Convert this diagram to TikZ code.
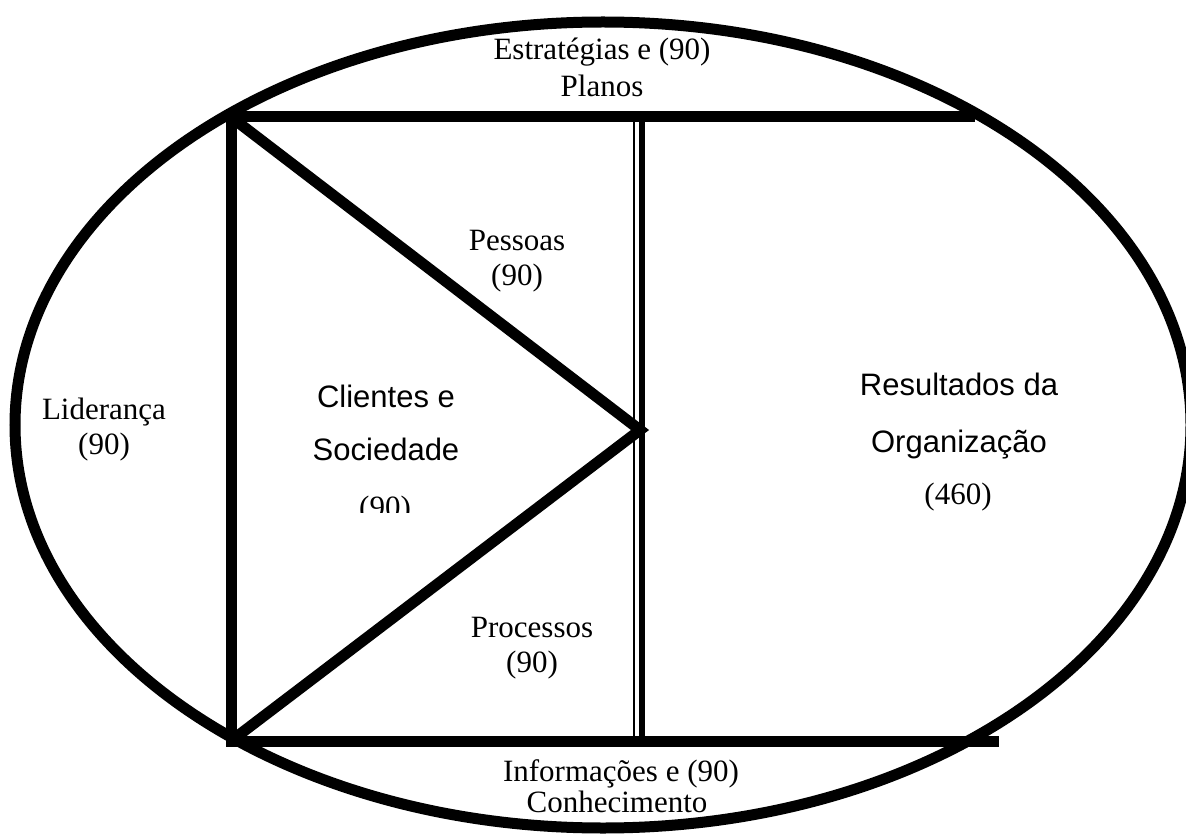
\documentclass[tikz,border=0pt]{standalone}
\usepackage{fontspec}
\setmainfont{Liberation Serif}
\newfontfamily\arialfont{Liberation Sans}
\begin{document}
\begin{tikzpicture}[x=1pt,y=-1pt,
  thickline/.style={line width=11pt,line cap=butt},
  seriflabel/.style={font=\fontsize{31}{35}\selectfont,align=center,inner sep=0pt},
  serifline/.style={font=\fontsize{31}{35}\selectfont,inner sep=0pt,anchor=base},
  sanslabel/.style={font=\arialfont\fontsize{31}{35}\selectfont,align=center,inner sep=0pt}]
\useasboundingbox (0,0) rectangle (1186,834);
\clip (0,0) rectangle (1186,834);

% outer ellipse
\draw[thickline] (603,425) ellipse [x radius=588, y radius=403];

% frame corners
\coordinate (tl) at (231,117);
\coordinate (tr) at (975,117);
\coordinate (bl) at (231,741);
\coordinate (br) at (999,741);
\coordinate (apex) at (640,430);

% horizontal bars
\draw[thickline] (225.5,117) -- (tr);
\draw[thickline] (225.5,741) -- (br);
% left vertical bar
\draw[thickline] (231,111.5) -- (231,746.5);
% triangle
\draw[thickline,line join=miter] (tl) -- (apex) -- (bl);
% double divider
\draw[line width=2pt] (634,117) -- (634,741);
\draw[line width=6pt] (642,117) -- (642,741);

% labels outside the frame
\node[serifline] (estr) at (602,60) {Estratégias e (90)};
\node[serifline] (plan) at (602,97) {Planos};
\node[serifline] (info) at (621,781) {Informações e (90)};
\node[serifline] (conh) at (617,812) {Conhecimento};

\node[seriflabel] (pess) at (517,261) {Pessoas\\(90)};
\node[seriflabel] (lider) at (104,430) {Liderança\\(90)};
\node[seriflabel] (proc) at (532,648) {Processos\\(90)};

\node[sanslabel] (cli1) at (386,396) {Clientes e};
\node[sanslabel] (cli2) at (386,449) {Sociedade};
\begin{scope}
  \clip (300,480) rectangle (470,512);
  \node[serifline] (cli3) at (385,517) {(90)};
\end{scope}

\node[sanslabel] (res1) at (959,384) {Resultados da};
\node[sanslabel] (res2) at (959,445) {Organização};
\node[seriflabel] (res3) at (958,497) {(460)};
\end{tikzpicture}
\end{document}
